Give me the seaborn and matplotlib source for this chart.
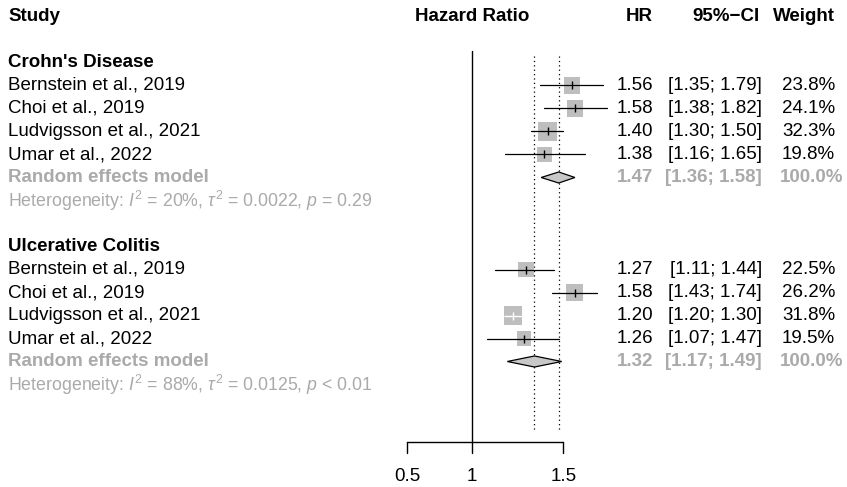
import numpy as np
import pandas as pd
import matplotlib.pyplot as plt
from matplotlib.transforms import blended_transform_factory
import seaborn as sns

sns.set_style("white")
plt.rcParams['font.family'] = ['Liberation Sans', 'DejaVu Sans']
plt.rcParams['text.color'] = 'black'
plt.rcParams['mathtext.fontset'] = 'custom'
plt.rcParams['mathtext.rm'] = 'Liberation Sans'
plt.rcParams['mathtext.it'] = 'Liberation Sans:italic'

# Data
groups = ["Crohn's Disease", "Ulcerative Colitis"]
studies = ["Bernstein et al., 2019", "Choi et al., 2019", "Ludvigsson et al., 2021", "Umar et al., 2022"]

cd_hr = [1.56, 1.58, 1.40, 1.38]
cd_lo = [1.35, 1.38, 1.30, 1.16]
cd_hi = [1.79, 1.82, 1.50, 1.65]
cd_w = [23.8, 24.1, 32.3, 19.8]

uc_hr = [1.27, 1.58, 1.20, 1.26]
uc_lo = [1.11, 1.43, 1.20, 1.07]
uc_hi = [1.44, 1.74, 1.30, 1.47]
uc_w = [22.5, 26.2, 31.8, 19.5]

# CI drawn white inside the box when it is narrower than the box
cd_in_box = [False, False, False, False]
uc_in_box = [False, False, True, False]

pooled_hr = [1.47, 1.32]
pooled_lo = [1.36, 1.17]
pooled_hi = [1.58, 1.49]
het_i2 = ["20%", "88%"]
het_tau2 = ["0.0022", "0.0125"]
het_p = ["= 0.29", "< 0.01"]

tick_pos = [0.75, 1, 1.5]
tick_labels = ["0.5", "1", "1.5"]

GRAY_BOX = '#bebebe'
GRAY_TXT = '#aaaaaa'
FS = 13.5

# Canvas: one axes over the whole figure, log scale on x, row index on y
W, H = 847, 487
fig = plt.figure(figsize=(W / 100, H / 100), dpi=100)
ax = fig.add_axes([0, 0, 1, 1])
ax.set_xscale('log')
x1_px, px_per_ln = 472, 225
row0_px, row_h = 16.5, 23
ax.axis('off')

tr = blended_transform_factory(ax.transAxes, ax.transData)

def fx(p):
    return p / W

x_study, x_hr, x_ci, x_w, x_wp = fx(8), fx(653), fx(762), fx(835), fx(843)

# Headers
ax.text(x_study, 0, "Study", transform=tr, ha='left', va='center', fontsize=FS, fontweight='bold')
ax.text(1, 0, "Hazard Ratio", ha='center', va='center', fontsize=FS, fontweight='bold')
ax.text(x_hr, 0, "HR", transform=tr, ha='right', va='center', fontsize=FS, fontweight='bold')
ax.text(fx(760), 0, "95%\u2212CI", transform=tr, ha='right', va='center', fontsize=FS, fontweight='bold')
ax.text(x_w, 0, "Weight", transform=tr, ha='right', va='center', fontsize=FS, fontweight='bold')

group_data = [
    (cd_hr, cd_lo, cd_hi, cd_w, cd_in_box),
    (uc_hr, uc_lo, uc_hi, uc_w, uc_in_box),
]

box_rows = []
for g, (hr, lo, hi, w, inbox) in enumerate(group_data):
    head = 2 + 8 * g
    ax.text(x_study, head, groups[g], transform=tr, ha='left', va='center',
            fontsize=FS, fontweight='bold')
    for i, name in enumerate(studies):
        r = head + 1 + i
        box_rows.append({"hr": hr[i], "row": r, "weight": w[i]})
        ax.text(x_study, r, name, transform=tr, ha='left', va='center', fontsize=FS)
        ax.text(x_hr, r, f"{hr[i]:.2f}", transform=tr, ha='right', va='center', fontsize=FS)
        ax.text(x_ci, r, f"[{lo[i]:.2f}; {hi[i]:.2f}]", transform=tr, ha='right', va='center', fontsize=FS)
        ax.text(x_w, r, f"{w[i]:.1f}%", transform=tr, ha='right', va='center', fontsize=FS)
        side = np.sqrt(5.75 * w[i])
        if inbox[i]:
            ax.scatter([hr[i]], [r], marker='_', s=side ** 2 * 0.85, color='white', linewidths=1, zorder=4)
            ax.scatter([hr[i]], [r], marker='|', s=30, color='white', linewidths=1, zorder=4)
        else:
            ax.plot([lo[i], hi[i]], [r, r], color='black', lw=0.9, zorder=4)
            ax.scatter([hr[i]], [r], marker='|', s=30, color='black', linewidths=1, zorder=4)

    # pooled estimate
    r = head + 5
    ax.text(x_study, r, "Random effects model", transform=tr, ha='left', va='center',
            fontsize=FS, fontweight='bold', color=GRAY_TXT)
    ax.text(x_hr, r, f"{pooled_hr[g]:.2f}", transform=tr, ha='right', va='center',
            fontsize=FS, fontweight='bold', color=GRAY_TXT)
    ax.text(x_ci, r, f"[{pooled_lo[g]:.2f}; {pooled_hi[g]:.2f}]", transform=tr, ha='right',
            va='center', fontsize=FS, fontweight='bold', color=GRAY_TXT)
    ax.text(x_wp, r, "100.0%", transform=tr, ha='right', va='center',
            fontsize=FS, fontweight='bold', color=GRAY_TXT)
    dh = 0.24
    ax.fill([pooled_lo[g], pooled_hr[g], pooled_hi[g], pooled_hr[g]],
            [r, r - dh, r, r + dh], facecolor='#c8c8c8', edgecolor='black', lw=0.9, zorder=4)
    ax.text(x_study, r + 1,
            "Heterogeneity: $I^2$ = " + het_i2[g] + r", $\tau^2$ = " + het_tau2[g]
            + ", $p$ " + het_p[g],
            transform=tr, ha='left', va='center', fontsize=12.8, color=GRAY_TXT)

    # dotted line at pooled estimate
    ax.plot([pooled_hr[g], pooled_hr[g]], [1.7, 18.0], color='black', lw=0.9,
            linestyle=(0, (1, 2.5)), zorder=1)

boxes = pd.DataFrame(box_rows)
size_map = {wt: 5.75 * wt for wt in boxes["weight"].unique()}
sns.scatterplot(data=boxes, x="hr", y="row", size="weight", sizes=size_map, marker='s',
                color=GRAY_BOX, linewidth=0, legend=False, ax=ax, zorder=3)

# reference line at 1
ax.plot([1, 1], [1.48, 18.5], color='black', lw=1, zorder=2)

# x axis
axis_row = 18.5
ax.plot([tick_pos[0], tick_pos[-1]], [axis_row, axis_row], color='black', lw=1)
for tp, tl in zip(tick_pos, tick_labels):
    ax.plot([tp, tp], [axis_row, axis_row + 0.48], color='black', lw=1)
    ax.text(tp, axis_row + 1.5, tl, ha='center', va='center', fontsize=FS)

ax.set_xlim(np.exp(-x1_px / px_per_ln), np.exp((W - x1_px) / px_per_ln))
ax.set_ylim((H - row0_px) / row_h, -row0_px / row_h)

plt.savefig('out.png', dpi=100)
